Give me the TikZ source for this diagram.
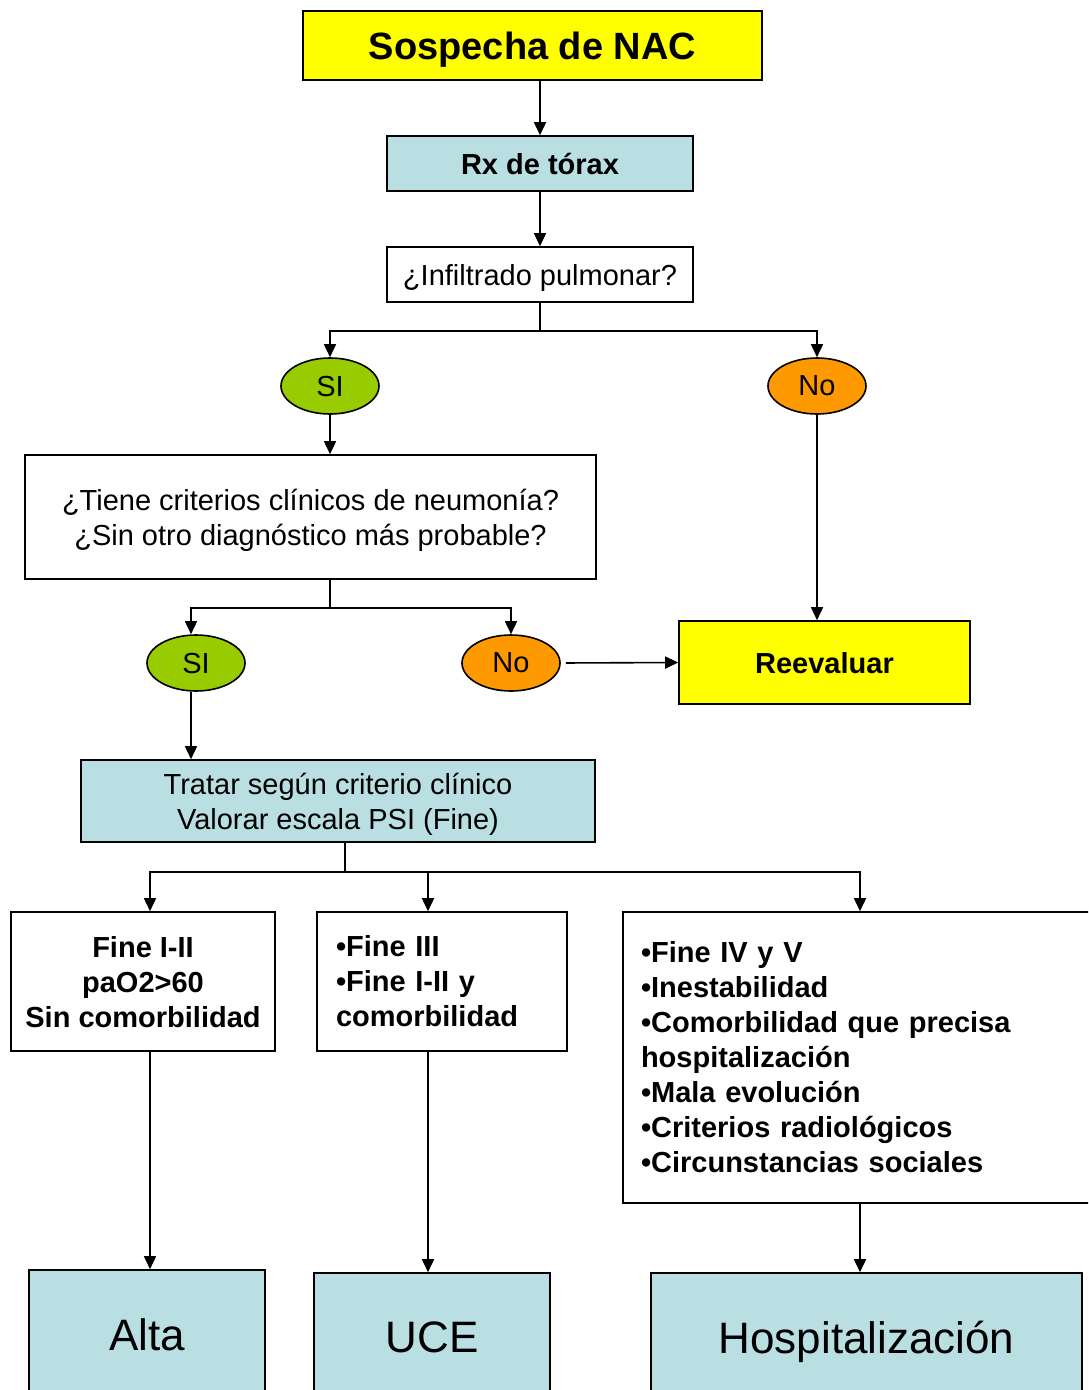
\documentclass[tikz,border=0pt]{standalone}
\usepackage{fontspec}
\setmainfont{Liberation Sans}
\usetikzlibrary{arrows.meta,shapes.geometric,calc}
\definecolor{cyel}{HTML}{FFFF00}
\definecolor{cblue}{HTML}{B9DFE3}
\definecolor{cgreen}{HTML}{99CC00}
\definecolor{corange}{HTML}{FF9900}
\begin{document}
\begin{tikzpicture}[x=1pt,y=-1pt,
  basebox/.style={draw=black,line width=1.6pt,rectangle,inner sep=0pt,font=\fontsize{29}{35}\selectfont},
  box/.style={basebox,align=center,text depth=0pt},
  listbox/.style={basebox,align=left,font=\fontsize{29}{35}\selectfont\bfseries},
  oval/.style={draw=black,line width=1.6pt,ellipse,minimum width=98pt,minimum height=56pt,inner sep=0pt,text depth=0pt,font=\fontsize{29}{35}\selectfont},
  arr/.style={line width=1.6pt,-{Triangle[length=13pt,width=12pt]}},
  ln/.style={line width=1.6pt}]
\useasboundingbox (0,0) rectangle (1088,1390);
\clip (0,0) rectangle (1088,1390);
\node[box,fill=cyel,minimum width=459pt,minimum height=69pt,font=\fontsize{38}{44}\selectfont\bfseries] (nac) at (532.5,45.5) {Sospecha de NAC};
\node[box,fill=cblue,minimum width=306pt,minimum height=55pt,font=\fontsize{29}{35}\selectfont\bfseries] (rx) at (540,163.5) {Rx de tórax};
\node[box,minimum width=306pt,minimum height=55pt] (inf) at (540,274.5) {¿Infiltrado pulmonar?};
\node[oval,fill=cgreen] (si1) at (330,386) {SI};
\node[oval,fill=corange] (no1) at (817,386) {No};
\node[box,minimum width=571pt,minimum height=124pt] (tiene) at (310.5,517) {¿Tiene criterios clínicos de neumonía?\\¿Sin otro diagnóstico más probable?};
\node[oval,fill=cgreen] (si2) at (196,663) {SI};
\node[oval,fill=corange] (no2) at (511,663) {No};
\node[box,fill=cyel,minimum width=291pt,minimum height=83pt,font=\fontsize{29}{35}\selectfont\bfseries] (reev) at (824.5,662.5) {Reevaluar};
\node[box,fill=cblue,minimum width=514pt,minimum height=82pt] (tratar) at (338,801) {Tratar según criterio clínico\\Valorar escala PSI (Fine)};
\node[box,minimum width=264pt,minimum height=139pt,font=\fontsize{29}{35}\selectfont\bfseries] (b1) at (143,981.5) {Fine I-II\\paO2>60\\Sin comorbilidad};
\node[listbox,minimum height=139pt,text width=212pt,inner xsep=19pt] (b2) at (442,981.5) {•Fine III\\•Fine I-II y\\comorbilidad};
\node[listbox,minimum height=291pt,text width=438pt,inner xsep=18pt] (b3) at (860,1057.5) {•Fine IV y V\\•Inestabilidad\\•Comorbilidad que precisa\\hospitalización\\•Mala evolución\\•Criterios radiológicos\\•Circunstancias sociales};
\node[box,fill=cblue,minimum width=236pt,minimum height=130pt,font=\fontsize{44}{50}\selectfont] (alta) at (147,1335) {Alta};
\node[box,fill=cblue,minimum width=236pt,minimum height=128pt,font=\fontsize{44}{50}\selectfont] (uce) at (432,1337) {UCE};
\node[box,fill=cblue,minimum width=431pt,minimum height=128pt,font=\fontsize{44}{50}\selectfont] (hosp) at (866.5,1337) {Hospitalización};
% connectors
\draw[arr] (nac.south -| rx.north) -- (rx.north);
\draw[arr] (rx.south) -- (inf.north);
\draw[ln] (inf.south) -- ++(0,28) coordinate (j1);
\draw[arr] (j1) -| (si1.north);
\draw[arr] (j1) -| (no1.north);
\draw[arr] (si1.south) -- (si1.south |- tiene.north);
\draw[arr] (no1.south) -- (no1.south |- reev.north);
\draw[ln] (tiene.south -| si1.south) -- ++(0,28) coordinate (j2);
\draw[arr] (j2) -| ([xshift=-5pt]si2.north);
\draw[arr] (j2) -| (no2.north);
\draw[arr,shorten <=5pt] (no2.east) -- (reev.west);
\draw[arr] ([xshift=-5pt]si2.south) -- ([xshift=-5pt]si2.south |- tratar.north);
\draw[ln] ([xshift=7pt]tratar.south) -- ++(0,29) coordinate (j3);
\draw[arr] (j3) -| ([xshift=7pt]b1.north);
\draw[arr] (j3) -| ([xshift=-14pt]b2.north);
\draw[arr] (j3) -| (b3.north);
\draw[arr] ([xshift=7pt]b1.south) -- ([xshift=7pt]b1.south |- alta.north);
\draw[arr] ([xshift=-14pt]b2.south) -- ([xshift=-14pt]b2.south |- uce.north);
\draw[arr] (b3.south) -- (b3.south |- hosp.north);
\end{tikzpicture}
\end{document}
